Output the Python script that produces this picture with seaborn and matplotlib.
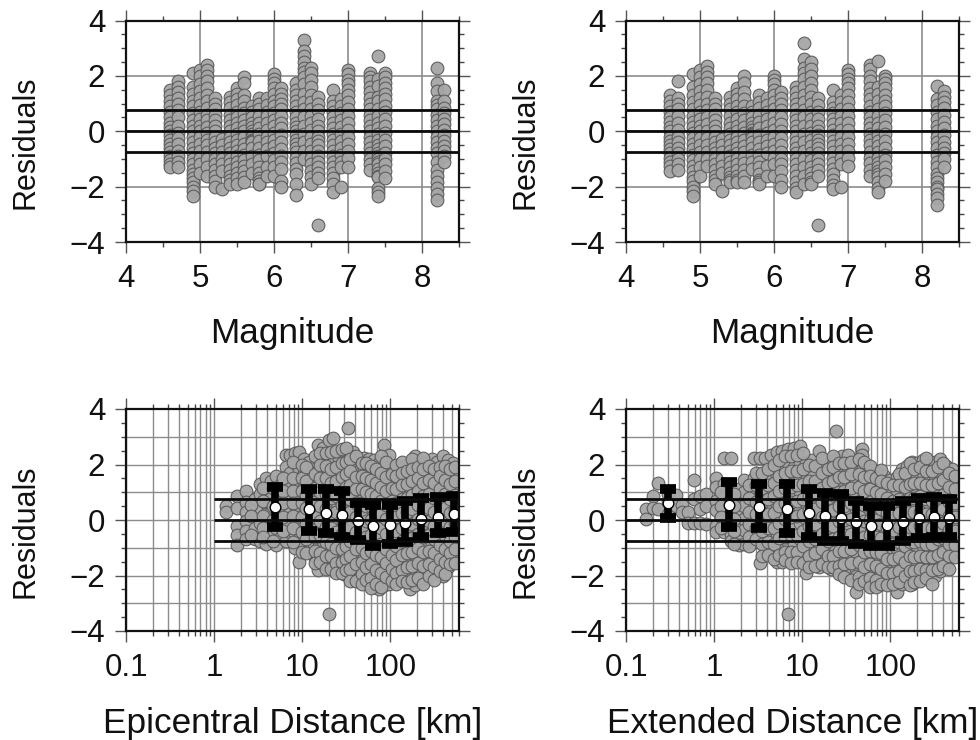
import pandas as pd
import numpy as np
import matplotlib
matplotlib.use('Agg')
import matplotlib.pyplot as plt
from matplotlib.ticker import FixedLocator, NullFormatter, FuncFormatter
import seaborn as sns

sns.set_theme(style='ticks')
plt.rcParams['font.family'] = ['Liberation Sans', 'DejaVu Sans']
plt.rcParams['axes.unicode_minus'] = True

# ================= data =================
mag_left = [4.6, 4.7, 4.9, 5.0, 5.1, 5.2, 5.3, 5.4, 5.5, 5.6, 5.7, 5.8, 5.9, 6.0, 6.1,
            6.3, 6.4, 6.5, 6.6, 6.8, 6.9, 7.0, 7.3, 7.4, 7.5, 8.2, 8.3]
res_mag_left = [
    [1.5, 1.3, 1.1, .9, .7, .5, .3, .15, 0, -.15, -.3, -.45, -.6, -.75, -.9, -1.05, -1.2, -1.3],
    [1.8, 1.6, 1.4, 1.2, 1.0, .75, .5, .2, -.05, -.25, -.45, -.7, -.9, -1.1, -1.3],
    [2.1, 1.6, 1.35, 1.1, .9, .65, .4, .2, 0, -.2, -.4, -.6, -.8, -1.0, -1.2, -1.4, -1.55, -1.7, -1.85, -2.0, -2.15, -2.35],
    [2.2, 2.0, 1.7, 1.45, 1.2, .95, .7, .45, .2, 0, -.2, -.45, -.7, -.95, -1.2, -1.5],
    [2.4, 2.2, 2.0, 1.8, 1.55, 1.3, 1.1, .85, .6, .4, .15, -.05, -.3, -.5, -.75, -1.0, -1.3, -1.6],
    [1.2, 1.0, .8, .6, .4, .2, 0, -.2, -.4, -.6, -.8, -1.0, -1.2, -1.4, -1.6, -1.8, -2.0],
    [-.28, -.5, -.75, -1.0, -1.2, -1.45, -2.1],
    [1.25, 1.05, .85, .6, .4, .2, 0, -.2, -.4, -.6, -.8, -1.0, -1.2, -1.4, -1.6, -1.75, -1.9],
    [1.55, 1.35, 1.15, .95, .7, .5, .3, .1, -.1, -.3, -.5, -.7, -.9, -1.1, -1.3, -1.5, -1.7, -1.9],
    [1.95, 1.75, 1.3, 1.1, .85, .65, .4, .2, 0, -.2, -.45, -.65, -.85, -1.05, -1.25, -1.45, -1.65, -1.85],
    [.9, .7, .5, .3, .15, 0, -.1, -.2, -.3, -.35, -.4, -.6, -.9, -1.2, -1.5],
    [1.2, 1.0, .8, .55, .3, .1, -.1, -.35, -.6, -.85, -1.05, -1.3, -1.5, -1.7, -1.8, -1.9, -1.9],
    [1.2, .95, .7, .55, .3, .05, -.2, -.4, -.65, -.9, -1.3, -1.6],
    [2.05, 1.9, 1.75, 1.55, 1.35, 1.1, .9, .65, .4, .2, -.05, -.3, -.55, -.8, -1.05, -1.3, -1.6],
    [1.55, 1.35, 1.15, 1.0, .8, .55, .3, .1, -.15, -.4, -.65, -.9, -1.1, -1.35, -1.8, -2.0],
    [1.75, 1.5, 1.3, 1.1, .9, .7, .5, .3, .15, 0, -.15, -.3, -.45, -.6, -.75, -.95, -1.15, -1.35, -1.55, -1.9, -2.3],
    [3.3, 2.9, 2.7, 2.5, 2.3, 2.15, 1.95, 1.7, 1.35, 1.05, .8, .5, .2, -.1, -.4, -.7, -1.0],
    [2.3, 2.1, 1.85, 1.6, 1.3, 1.05, .8, .55, .3, .05, -.2, -.45, -.7, -.95, -1.2, -1.45, -1.65, -1.9],
    [1.25, 1.0, .75, .45, .2, 0, -.2, -.35, -.5, -.7, -.9, -1.1, -1.3, -1.5, -1.7, -3.4],
    [1.5, 1.1, .9, .7, .5, .3, .1, -.1, -.3, -.5, -.7, -.9, -1.1, -1.3, -1.5, -1.7, -1.9, -2.2],
    [1.15, .9, .65, .4, .15, -.1, -.35, -.6, -.85, -1.1, -1.3, -2.0],
    [2.2, 2.05, 1.85, 1.7, 1.5, 1.3, 1.05, .8, .55, .3, .05, -.2, -.45, -.7, -.95, -1.3],
    [2.1, 1.95, 1.8, 1.6, 1.4, 1.2, 1.0, .8, .6, .4, .2, 0, -.2, -.4, -.6, -.8, -1.0, -1.2, -1.4],
    [2.7, 1.9, 1.65, 1.25, 1.1, .8, .55, .3, .1, -.1, -.3, -.5, -.65, -.8, -.9, -1.0, -1.1, -1.2, -1.35, -1.5, -1.6, -1.65, -2.05, -2.2, -2.35],
    [2.1, 1.95, 1.75, 1.55, 1.35, 1.15, .9, .7, .45, .2, -.05, -.3, -.55, -.8, -1.0, -1.2, -1.45, -1.7],
    [2.3, 1.75, 1.45, 1.1, .95, .8, .6, .4, .2, 0, -.2, -.4, -.6, -.8, -1.1, -1.4, -1.6, -1.85, -2.05, -2.25, -2.5],
    [1.5, 1.1, .85, .65, .45, .25, .05, -.15, -.35, -.55, -.7, -.9, -1.1],
]

mag_right = [4.6, 4.7, 4.9, 5.0, 5.1, 5.2, 5.3, 5.4, 5.5, 5.6, 5.7, 5.8, 5.9, 6.0, 6.1,
             6.3, 6.4, 6.5, 6.6, 6.8, 6.9, 7.0, 7.3, 7.4, 7.5, 8.2, 8.3]
res_mag_right = [
    [1.3, 1.1, .9, .7, .5, .35, .15, 0, -.2, -.35, -.5, -.65, -.8, -.95, -1.1, -1.25, -1.45],
    [1.8, 1.2, 1.0, .8, .55, .3, .05, -.2, -.4, -.6, -.8, -1.0, -1.2, -1.4],
    [2.05, 1.6, 1.3, 1.05, .8, .55, .35, .15, -.05, -.25, -.45, -.65, -.85, -1.05, -1.25, -1.45, -1.65, -1.8, -2.0, -2.15, -2.35],
    [2.2, 1.95, 1.7, 1.45, 1.2, .95, .7, .45, .2, 0, -.25, -.5, -.75, -1.0, -1.3, -1.6],
    [2.35, 2.15, 1.95, 1.75, 1.5, 1.25, 1.0, .75, .5, .25, 0, -.25, -.5, -.75, -1.0, -1.25],
    [1.2, 1.0, .8, .6, .4, .2, 0, -.2, -.4, -.6, -.8, -1.0, -1.2, -1.4, -1.6, -1.75, -1.9],
    [-.28, -.5, -.75, -1.0, -1.25, -1.5, -2.15],
    [1.25, 1.0, .8, .55, .3, .1, -.1, -.3, -.5, -.7, -.9, -1.1, -1.3, -1.5, -1.65, -1.75, -1.85],
    [1.55, 1.35, 1.15, .9, .7, .45, .2, 0, -.2, -.4, -.6, -.8, -1.0, -1.2, -1.4, -1.6, -1.75, -1.85],
    [2.0, 1.75, 1.4, 1.15, .9, .65, .4, .15, -.05, -.3, -.55, -.75, -.95, -1.15, -1.4, -1.6, -1.85],
    [.9, .7, .5, .3, .15, .05, -.05, -.1, -.15, -.25, -.4, -.6, -.85, -1.1, -1.35],
    [1.3, 1.05, .85, .6, .35, .1, -.15, -.4, -.65, -.85, -1.1, -1.3, -1.55, -1.75, -1.85, -1.9],
    [1.2, .95, .7, .45, .2, -.05, -.3, -.55, -.8, -1.25, -1.6],
    [2.0, 1.85, 1.7, 1.5, 1.3, 1.05, .8, .55, .3, .05, -.2, -.45, -.7, -.95, -1.2, -1.6],
    [1.4, 1.2, 1.0, .75, .5, .25, 0, -.25, -.5, -.75, -1.0, -1.2, -1.45, -1.75, -2.0],
    [1.6, 1.4, 1.2, 1.0, .8, .6, .4, .2, 0, -.2, -.4, -.6, -.8, -1.0, -1.2, -1.4, -1.6, -1.85, -2.05, -2.2],
    [3.2, 2.6, 2.3, 2.1, 1.9, 1.6, 1.3, 1.05, .75, .5, .2, -.1, -.4, -.7, -1.0, -1.3, -1.6, -1.9],
    [2.5, 2.25, 2.0, 1.75, 1.5, 1.25, 1.0, .7, .45, .2, -.05, -.3, -.55, -.8, -1.05, -1.3, -1.5, -1.7, -1.85, -1.9],
    [1.2, .95, .7, .45, .2, 0, -.15, -.3, -.45, -.6, -.8, -1.0, -1.2, -1.4, -1.6, -3.4],
    [1.5, 1.05, .85, .65, .45, .25, .05, -.15, -.35, -.55, -.75, -.95, -1.15, -1.35, -1.55, -1.75, -1.95, -2.1],
    [1.3, 1.05, .8, .55, .3, .05, -.2, -.45, -.7, -.95, -1.2, -2.0],
    [2.2, 2.05, 1.9, 1.75, 1.55, 1.3, 1.05, .8, .55, .3, .05, -.2, -.45, -.7, -.95, -1.25],
    [2.4, 2.25, 2.0, 1.8, 1.55, 1.35, 1.15, .9, .7, .5, .3, .1, -.1, -.3, -.5, -.75, -.95, -1.15, -1.4, -1.6],
    [2.55, 1.6, 1.35, 1.1, .8, .55, .3, .1, -.15, -.35, -.55, -.75, -.95, -1.15, -1.3, -1.45, -1.55, -1.65, -1.85, -2.05, -2.2],
    [2.0, 1.9, 1.75, 1.55, 1.3, 1.1, .9, .65, .4, .15, -.1, -.35, -.6, -.85, -1.05, -1.3, -1.55, -1.8],
    [1.65, 1.15, .95, .7, .45, .2, 0, -.2, -.4, -.6, -.85, -1.1, -1.3, -1.55, -1.7, -1.85, -2.0, -2.1, -2.25, -2.4, -2.65],
    [1.45, 1.25, 1.05, .85, .6, .35, .1, -.15, -.4, -.6, -.8, -1.0, -1.3],
]

epi_dist = [1.35, 1.8, 2.3, 2.9, 3.3, 3.9, 4.4, 5.0, 5.7, 6.5, 7.3, 8.2, 9.2, 10.5, 12, 13.5, 15, 17, 20, 22.5,
            26, 30, 33, 38, 44, 50, 57, 65, 74, 84, 96, 110, 125, 145, 165, 190, 220, 255, 295, 340, 390, 450, 510, 570,
            2.6, 3.6, 4.7, 6, 7.8, 9.8, 11, 14, 16, 18.5, 21, 24, 28, 31, 35, 41, 47, 53, 61, 69, 79, 90,
            103, 117, 135, 155, 178, 205, 237, 275, 315, 365, 420, 480, 540]
res_epi = [
    [.5, .28], [.85, .45, -.2, -.55, -.9], [1.05, .65, .3, -.05, -.4, -.7], [.75, .1, -.3, -.7],
    [1.3, .95, .4, -.1, -.75], [1.5, 1.1, .6, .2, -.45, -.85], [1.4, .8, .3, -.2, -.55], [1.6, 1.15, .7, .25, -.3, -.9],
    [1.3, .9, .45, -.1, -.6], [2.35, 1.9, 1.55, 1.2, .8, .35, -.2, -.75], [2.35, 1.7, 1.25, .75, .3, -.45],
    [2.4, 2.05, 1.45, 1.0, .55, .1, -.5, -1.0], [2.45, 1.85, 1.3, .9, .4, -.15, -.7, -1.5], [2.2, 1.7, 1.2, .7, .2, -.4, -.95],
    [2.1, 1.6, 1.05, .5, 0, -.55, -1.1], [1.9, 1.4, .95, .35, -.3, -.85, -1.3], [2.7, 2.2, 1.75, 1.25, .7, .15, -.45, -1.0, -1.8],
    [2.6, 1.9, 1.4, .85, .3, -.25, -.75, -1.25, -1.6], [2.9, 2.2, 1.75, 1.15, .6, .05, -.5, -1.05, -1.45, -3.4],
    [2.95, 2.1, 1.55, 1.0, .4, -.15, -.7, -1.2, -1.7], [2.2, 1.7, 1.25, .75, .25, -.35, -.9, -1.4, -1.8],
    [2.3, 1.85, 1.4, .9, .35, -.2, -.75, -1.2, -1.65, -1.95], [3.3, 2.45, 1.95, 1.45, 1.0, .5, -.1, -.6, -1.1, -1.55, -2.0],
    [2.45, 2.0, 1.55, 1.05, .55, 0, -.5, -.95, -1.5, -2.0], [2.2, 1.75, 1.3, .8, .3, -.3, -.85, -1.35, -1.8, -2.1],
    [2.25, 1.85, 1.35, .85, .35, -.15, -.7, -1.25, -1.7, -2.2], [2.2, 1.7, 1.2, .7, .15, -.4, -.95, -1.45, -1.95, -2.3],
    [2.15, 1.75, 1.25, .75, .25, -.3, -.85, -1.35, -1.85, -2.4], [2.05, 1.6, 1.1, .55, 0, -.55, -1.05, -1.6, -2.1, -2.5],
    [2.7, 1.9, 1.45, .95, .45, -.05, -.6, -1.15, -1.7, -2.2, -2.35], [2.35, 1.75, 1.3, .8, .3, -.2, -.8, -1.3, -1.8, -2.3],
    [1.9, 1.45, 1.0, .5, 0, -.5, -1.0, -1.5, -2.0], [1.8, 1.35, .85, .35, -.15, -.7, -1.2, -1.7, -2.1],
    [1.95, 1.5, 1.0, .55, .05, -.45, -.95, -1.5, -2.05], [2.05, 1.6, 1.15, .65, .15, -.4, -.9, -1.4, -1.9, -2.5],
    [2.3, 1.8, 1.3, .8, .3, -.2, -.75, -1.25, -1.8, -2.35], [2.05, 1.6, 1.1, .6, .1, -.35, -.85, -1.4, -1.95, -2.2],
    [2.1, 1.75, 1.25, .75, .25, -.3, -.8, -1.3, -1.85, -2.1], [2.2, 1.7, 1.2, .7, .2, -.35, -.85, -1.35, -1.8],
    [2.1, 1.55, 1.05, .55, .05, -.45, -.95, -1.45, -1.95], [2.3, 1.85, 1.35, .85, .35, -.15, -.65, -1.15, -1.6, -2.0],
    [2.15, 1.7, 1.2, .7, .2, -.3, -.8, -1.25, -1.7], [2.05, 1.5, 1.0, .5, 0, -.5, -1.0, -1.4], [1.6, 1.15, .65, .15, -.35, -.85, -1.2],
    # second pass over the same range, filling between the columns above
    [.55, .15, -.55], [1.15, .7, .15, -.3, -.6], [1.15, .5, 0, -.75], [1.5, 1.05, .6, .1, -.4], [2.1, 1.5, 1.05, .6, .15, -.3, -.8],
    [2.0, 1.5, 1.05, .6, .1, -.45, -1.15], [1.9, 1.4, .9, .45, -.15, -.7, -1.2], [2.3, 1.65, 1.15, .65, .1, -.6, -1.1, -1.55],
    [2.4, 2.0, 1.5, 1.0, .5, -.05, -.55, -1.2, -1.5], [2.4, 1.95, 1.5, .95, .4, -.25, -.8, -1.3, -1.75], [2.45, 1.85, 1.35, .8, .25, -.3, -.85, -1.3, -1.75],
    [2.5, 1.9, 1.4, .85, .3, -.45, -1.0, -1.55, -1.9], [2.55, 2.05, 1.55, 1.05, .55, .05, -.5, -1.05, -1.5, -1.9], [2.6, 2.1, 1.65, 1.2, .75, .2, -.4, -.95, -1.4, -1.8],
    [2.2, 1.75, 1.25, .75, .3, -.25, -.75, -1.3, -1.75, -2.2], [2.3, 1.55, 1.1, .6, .1, -.45, -1.05, -1.6, -2.2], [2.05, 1.6, 1.1, .6, .1, -.45, -1.0, -1.5, -1.95, -2.3],
    [2.05, 1.5, 1.0, .5, -.05, -.6, -1.2, -1.7, -2.15], [1.95, 1.45, .95, .5, 0, -.55, -1.1, -1.6, -2.1, -2.45], [1.85, 1.35, .85, .35, -.2, -.7, -1.25, -1.8, -2.3],
    [2.3, 1.7, 1.2, .7, .2, -.3, -.85, -1.35, -1.9, -2.4], [2.1, 1.55, 1.05, .55, .05, -.5, -1.05, -1.55, -2.05], [1.65, 1.15, .7, .2, -.3, -.75, -1.25, -1.75, -2.2],
    [2.0, 1.6, 1.1, .6, .1, -.4, -.95, -1.45, -1.9, -2.3], [2.1, 1.7, 1.25, .75, .25, -.3, -.75, -1.25, -1.8, -2.2], [1.75, 1.3, .8, .3, -.2, -.7, -1.2, -1.7, -2.25],
    [2.2, 1.85, 1.4, .9, .4, -.15, -.65, -1.15, -1.65, -2.15], [1.9, 1.5, 1.05, .55, .05, -.5, -1.0, -1.55, -2.1], [2.25, 1.85, 1.35, .85, .35, -.1, -.6, -1.15, -1.65, -2.3],
    [1.95, 1.45, .95, .45, -.05, -.55, -1.1, -1.6, -2.0], [1.85, 1.35, .8, .3, -.2, -.7, -1.2, -1.7, -2.15], [1.9, 1.6, 1.1, .6, .1, -.4, -.9, -1.4, -1.85],
    [1.95, 1.45, .95, .45, -.05, -.55, -1.05, -1.5, -1.95], [1.85, 1.3, .75, .25, -.25, -.75, -1.2, -1.6], [1.9, 1.4, .9, .4, -.1, -.6, -1.05, -1.55],
]

ext_dist = [.17, .2, .23, .3, .37, .43, .5, .59, .7, .8, 1.06, 1.3, 1.55, 1.9, 2.2, 2.8, 3.3, 3.8, 4.4, 5.1, 5.9, 6.9, 8, 9.5,
            11, 13, 15.5, 18, 21, 24, 28, 33, 41, 47, 54, 63, 74, 85, 100, 118, 135, 155, 175, 200, 235, 275, 320, 370, 430, 500, 570,
            1.2, 1.7, 2.5, 3.0, 3.5, 4.1, 4.8, 5.5, 6.4, 7.4, 8.7, 10.2, 12, 14, 16.8, 19.5, 22.5, 26, 30, 36, 44, 50, 58, 68, 79, 92,
            108, 126, 145, 165, 187, 215, 255, 295, 345, 400, 465, 535]
res_ext = [
    [.4, .05], [.85, .45], [1.35, .4], [.95, .65, .2], [.9, .5], [.55, .3], [.3, -.1], [1.45, .75, -.1], [.85, .4, -.1], [.95, .5, -.15],
    [1.5, 1.2, .7, .35, -.2, -.45], [2.25, 1.3, .8, .4, -.1, -.45], [2.25, 1.15, .75, .3, -.2, -.5, -.75], [1.1, .7, .2, -.3, -.6, -.9],
    [1.45, 1.0, .5, .05, -.35, -.85], [2.25, 1.5, 1.05, .6, .1, -.4, -.8], [2.25, 1.3, .9, .35, -.15, -.65, -1.55], [2.25, 1.5, 1.0, .5, 0, -.55, -1.0],
    [2.35, 1.45, .95, .45, -.1, -.65, -1.2], [2.45, 1.6, 1.1, .55, .05, -.5, -1.1, -1.5], [2.5, 1.85, 1.3, .75, .2, -.35, -.9, -1.5],
    [2.55, 2.05, 1.45, .95, .35, -.2, -.8, -1.45, -3.4], [2.6, 1.9, 1.35, .85, .3, -.3, -.85, -1.45], [2.65, 2.05, 1.5, 1.0, .45, -.1, -.7, -1.4],
    [2.1, 1.65, 1.1, .6, .05, -.5, -1.05, -1.9], [2.15, 1.65, 1.2, .65, .15, -.4, -.95, -1.5], [2.5, 1.95, 1.4, .9, .35, -.25, -.8, -1.35, -1.7],
    [2.0, 1.55, 1.05, .5, 0, -.5, -1.05, -1.55], [2.1, 1.7, 1.15, .65, .1, -.4, -.95, -1.45, -1.75], [3.2, 2.2, 1.65, 1.1, .6, .05, -.5, -1.05, -1.6],
    [2.3, 1.8, 1.25, .75, .2, -.35, -.85, -1.4, -1.85], [2.35, 1.9, 1.4, .85, .3, -.25, -.8, -1.3, -1.9], [1.9, 1.45, .95, .4, -.1, -.65, -1.15, -1.75, -2.0, -2.6],
    [2.55, 2.35, 1.8, 1.25, .75, .2, -.35, -.9, -1.45, -2.1], [1.85, 1.35, .85, .3, -.25, -.8, -1.35, -1.85, -2.25], [1.8, 1.3, .8, .25, -.3, -.85, -1.4, -1.9, -2.35],
    [1.7, 1.25, .7, .2, -.35, -.9, -1.45, -2.0, -2.35], [1.6, 1.05, .5, 0, -.55, -1.1, -1.6, -2.15], [1.45, .95, .45, -.1, -.65, -1.2, -1.7, -2.2],
    [1.55, 1.05, .5, 0, -.5, -1.05, -1.6, -2.05, -2.6], [1.85, 1.3, .8, .3, -.25, -.8, -1.3, -1.85, -2.3], [1.95, 1.45, .95, .4, -.15, -.7, -1.25, -1.75, -2.2],
    [2.1, 1.6, 1.05, .55, 0, -.5, -1.05, -1.6, -2.1, -2.3], [2.05, 1.55, 1.05, .5, 0, -.55, -1.1, -1.65, -2.0], [2.15, 1.7, 1.15, .65, .1, -.4, -.95, -1.5, -1.9],
    [2.0, 1.5, .95, .45, -.1, -.6, -1.1, -1.6, -2.05], [2.1, 1.6, 1.1, .55, .05, -.45, -1.0, -1.5, -2.0], [2.2, 1.7, 1.15, .65, .15, -.4, -.9, -1.4, -1.85],
    [1.95, 1.45, .95, .4, -.1, -.6, -1.1, -1.55], [1.85, 1.35, .85, .3, -.2, -.7, -1.2], [1.45, .95, .45, -.05, -.55, -1.05],
    # second pass over the same range, filling between the columns above
    [1.0, .5, .1, -.3], [.95, .5, .05, -.4, -.85], [1.25, .8, .3, -.15, -.6, -.95], [1.7, 1.25, .65, .2, -.3, -.7],
    [1.7, 1.15, .65, .15, -.4, -.85, -1.3], [1.85, 1.25, .75, .2, -.3, -.8, -1.25], [2.0, 1.35, .85, .25, -.3, -.85, -1.4], [2.15, 1.6, 1.05, .5, -.1, -.65, -1.25],
    [2.3, 1.7, 1.15, .6, .05, -.6, -1.15, -1.45], [2.3, 1.75, 1.2, .65, .1, -.55, -1.15, -1.55], [2.35, 1.75, 1.25, .7, .15, -.55, -1.15, -1.5],
    [2.4, 1.85, 1.3, .75, .2, -.4, -.95, -1.55], [2.0, 1.4, .85, .35, -.2, -.75, -1.3, -1.7], [1.95, 1.4, .9, .4, -.15, -.7, -1.2, -1.65],
    [2.25, 1.7, 1.15, .65, .1, -.5, -1.05, -1.6], [1.85, 1.35, .8, .3, -.25, -.75, -1.3, -1.7], [2.3, 1.9, 1.4, .9, .35, -.2, -.7, -1.3, -1.7],
    [2.05, 1.55, 1.0, .5, -.05, -.6, -1.1, -1.65, -1.95], [2.05, 1.55, 1.05, .5, 0, -.55, -1.1, -1.6, -2.05], [2.1, 1.65, 1.15, .6, .05, -.5, -1.05, -1.55, -2.15],
    [2.2, 1.65, 1.2, .65, .15, -.4, -.9, -1.5, -2.05, -2.3], [2.1, 1.55, 1.05, .55, -.05, -.6, -1.15, -1.7, -2.2], [1.95, 1.6, 1.1, .55, 0, -.55, -1.1, -1.6, -2.1, -2.4],
    [1.5, 1.0, .5, 0, -.6, -1.15, -1.65, -2.15, -2.4], [1.8, 1.4, .95, .4, -.15, -.65, -1.2, -1.75, -2.3], [1.35, .8, .25, -.3, -.85, -1.4, -1.9, -2.35],
    [1.25, .7, .2, -.35, -.85, -1.4, -1.9, -2.3], [1.65, 1.25, .75, .25, -.25, -.8, -1.35, -1.85, -2.25], [1.7, 1.2, .7, .15, -.4, -.95, -1.5, -2.0],
    [2.05, 1.3, .8, .3, -.25, -.8, -1.3, -1.85, -2.35], [1.85, 1.35, .8, .3, -.25, -.8, -1.35, -1.85, -2.25], [1.9, 1.35, .85, .3, -.2, -.75, -1.3, -1.75, -2.2],
    [2.25, 1.75, 1.25, .75, .2, -.3, -.85, -1.35, -1.8, -2.1], [1.75, 1.25, .7, .2, -.3, -.85, -1.35, -1.8, -2.3], [1.9, 1.35, .85, .3, -.2, -.7, -1.25, -1.75],
    [2.05, 1.45, .9, .4, -.1, -.65, -1.15, -1.65], [1.7, 1.2, .65, .15, -.35, -.85, -1.3, -1.75], [1.6, 1.1, .6, .1, -.4, -.9, -1.35],
]

# binned means with lower / upper error bar ends
epi_bin = [4.9, 12, 18.6, 28, 43, 64, 98, 148, 224, 343, 520]
epi_mean = [.48, .39, .27, .19, -.05, -.22, -.19, -.1, .05, .12, .22]
epi_low = [-.27, -.38, -.48, -.63, -.73, -.93, -.88, -.81, -.63, -.48, -.43]
epi_high = [1.2, 1.13, 1.13, 1.05, .63, .53, .53, .68, .81, .83, .88]

ext_bin = [.3, 1.48, 3.2, 6.7, 12, 18, 27.5, 41, 61, 92, 139, 209, 311, 467]
ext_mean = [.6, .55, .48, .41, .24, .13, .08, -.07, -.22, -.19, -.06, .06, .1, .08]
ext_low = [.07, -.27, -.29, -.48, -.63, -.75, -.77, -.85, -.93, -.92, -.77, -.65, -.63, -.63]
ext_high = [1.12, 1.38, 1.28, 1.28, 1.1, .97, .92, .68, .5, .5, .68, .8, .82, .74]

y_labels = [-4, -2, 0, 2, 4]
mag_ticks = [4, 5, 6, 7, 8]
sigma_lines = [.75, 0, -.75]
# =============================================================

W, H = 980, 740
fig = plt.figure(figsize=(W / 100, H / 100), dpi=100, facecolor='white')


def make_axes(x0, y0, x1, y1):
    return fig.add_axes([x0 / W, 1 - y1 / H, (x1 - x0) / W, (y1 - y0) / H])


def columns_to_df(xs, ys):
    df = pd.DataFrame({'x': xs, 'res': ys}).explode('res')
    df['res'] = df['res'].astype(float)
    return df


def style_axes(ax, xlabel, log=False):
    ax.set_ylim(-4, 4)
    ax.yaxis.set_major_locator(FixedLocator(y_labels))
    ax.yaxis.set_minor_locator(FixedLocator([v / 2 for v in range(-8, 9) if v % 4 != 0]))
    if log:
        ax.set_xscale('log')
        ax.set_xlim(.1, 600)
        ax.xaxis.set_major_locator(FixedLocator([.1, 1, 10, 100]))
        minors = [m * d for d in [.1, 1, 10, 100] for m in range(2, 10) if m * d <= 600]
        ax.xaxis.set_minor_locator(FixedLocator(minors))
        ax.xaxis.set_major_formatter(FuncFormatter(lambda v, p: f'{v:g}'))
        ax.xaxis.set_minor_formatter(NullFormatter())
        ax.grid(True, which='both', axis='x', color='#8c8c8c', lw=1.0, zorder=0)
        for v in [-3, -2, -1, 0, 1, 2, 3]:
            ax.axhline(v, color='#8c8c8c', lw=1.0, zorder=0.5)
    else:
        ax.set_xlim(4, 8.5)
        ax.xaxis.set_major_locator(FixedLocator(mag_ticks))
        ax.xaxis.set_minor_locator(FixedLocator([4.5, 5.5, 6.5, 7.5, 8.5]))
        ax.grid(True, which='major', color='#8c8c8c', lw=1.2, zorder=0)
    ax.set_axisbelow(True)
    ax.tick_params(which='major', direction='out', length=8, width=1.0, color='#555555', labelsize=22.5,
                   top=True, right=True, pad=7, labelcolor='#111111')
    ax.tick_params(which='minor', direction='out', length=3.6, width=1.0, color='#444444', top=True, right=True)
    ax.tick_params(axis='x', which='major', pad=8)
    for sp in ax.spines.values():
        sp.set_linewidth(1.6)
        sp.set_color('#111111')
        sp.set_zorder(10)
    ax.set_xlabel(xlabel, fontsize=25.3, va='center', color='#111111')
    ax.set_ylabel('Residuals', fontsize=22, va='center', color='#111111')
    ax.xaxis.set_label_coords(.5, -.415)
    ax.yaxis.set_label_coords(-.303, .45)


def draw_points(ax, xs, ys):
    sns.scatterplot(data=columns_to_df(xs, ys), x='x', y='res', ax=ax, color='#a6a6a6', edgecolor='#5a5a5a',
                    linewidth=.8, s=84, alpha=.95, legend=False, zorder=3)


def draw_bins(ax, xs, mean, low, high):
    mean = np.array(mean)
    yerr = [mean - np.array(low), np.array(high) - mean]
    ax.errorbar(xs, mean, yerr=yerr, fmt='none', ecolor='black', elinewidth=5.5, capsize=5.5, capthick=7, zorder=5)
    sns.scatterplot(x=xs, y=mean, ax=ax, color='white', edgecolor='black', linewidth=1.0, s=58, legend=False, zorder=6)


def draw_lines(ax, x_from, x_to):
    ax.hlines(sigma_lines, x_from, x_to, color='#0a0a0a', lw=2.0, zorder=7)


# --- top row ---
ax1 = make_axes(126, 20.5, 459, 242)
style_axes(ax1, 'Magnitude')
draw_points(ax1, mag_left, res_mag_left)
draw_lines(ax1, 4, 8.5)

ax2 = make_axes(626, 20.5, 959, 242)
style_axes(ax2, 'Magnitude')
draw_points(ax2, mag_right, res_mag_right)
draw_lines(ax2, 4, 8.5)

# --- bottom row ---
ax3 = make_axes(126, 409, 459, 631)
style_axes(ax3, 'Epicentral Distance [km]', log=True)
draw_points(ax3, epi_dist, res_epi)
draw_bins(ax3, epi_bin, epi_mean, epi_low, epi_high)
draw_lines(ax3, 1, 600)

ax4 = make_axes(626, 409, 959, 631)
style_axes(ax4, 'Extended Distance [km]', log=True)
draw_points(ax4, ext_dist, res_ext)
draw_bins(ax4, ext_bin, ext_mean, ext_low, ext_high)
draw_lines(ax4, .1, 600)

fig.savefig('out.png', dpi=100)
